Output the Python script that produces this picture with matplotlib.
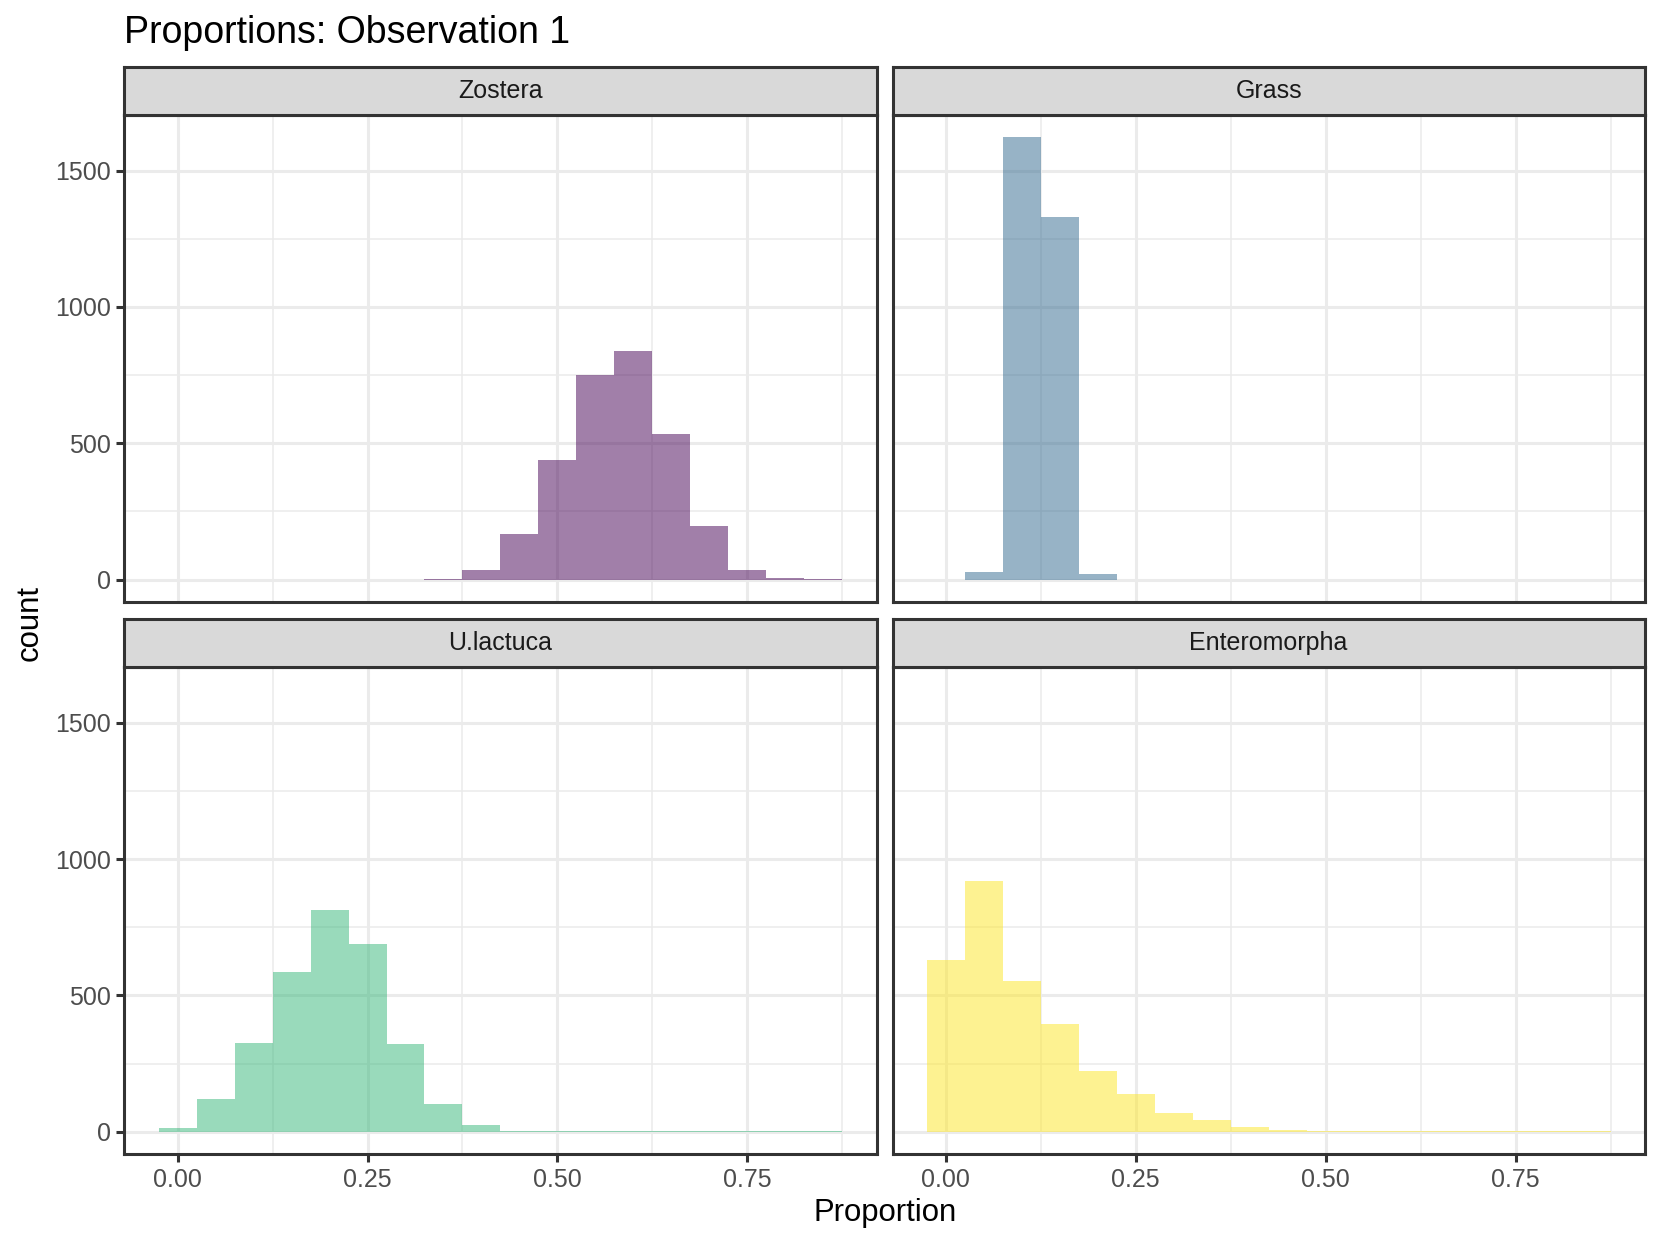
import numpy as np
import matplotlib
matplotlib.use("Agg")
import matplotlib.pyplot as plt

plt.rcParams['font.family'] = ['Liberation Sans', 'DejaVu Sans']

# bin centres (binwidth 0.05)
bin_centres = [0.00, 0.05, 0.10, 0.15, 0.20, 0.25, 0.30, 0.35, 0.40,
               0.45, 0.50, 0.55, 0.60, 0.65, 0.70, 0.75, 0.80, 0.85]

# counts, one list per facet
zostera = [0, 0, 0, 0, 0, 0, 0, 3, 35, 167, 438, 752, 837, 535, 198, 35, 4, 1]
grass = [0, 26, 1622, 1330, 22, 0, 0, 0, 0, 0, 0, 0, 0, 0, 0, 0, 0, 0]
ulactuca = [15, 120, 326, 584, 812, 688, 320, 102, 23, 4, 1, 1, 1, 1, 1, 1, 1, 1]
enteromorpha = [628, 919, 554, 395, 221, 140, 70, 43, 19, 8, 4, 2, 1, 1, 1, 1, 1, 1]

facet_names = ["Zostera", "Grass", "U.lactuca", "Enteromorpha"]
facet_counts = [zostera, grass, ulactuca, enteromorpha]
facet_colours = ["#440154", "#31688E", "#35B779", "#FDE725"]

x_ticks = [0.00, 0.25, 0.50, 0.75]
x_tick_labels = ["0.00", "0.25", "0.50", "0.75"]
y_ticks = [0, 500, 1000, 1500]

W, H = 1661, 1246
DPI = 200
fig = plt.figure(figsize=(W / DPI, H / DPI), dpi=DPI)

# panel geometry (figure fractions)
col_x = [0.0749, 0.5374]
panel_w = 0.4528
row_y = [0.5171, 0.0740]
panel_h = 0.3904
strip_h = 0.0388

dark = "#333333"
grid_col = "#ebebeb"
binw = 0.05
xlim = (-0.07, 0.92)
ymax = max(max(c) for c in facet_counts)
ylim = (-0.05 * ymax, 1.05 * ymax)

for i, (name, counts, col) in enumerate(zip(facet_names, facet_counts, facet_colours)):
    r, c = divmod(i, 2)
    ax = fig.add_axes([col_x[c], row_y[r], panel_w, panel_h])
    ax.set_xlim(*xlim)
    ax.set_ylim(*ylim)

    # gridlines like theme_bw
    ax.set_xticks(x_ticks)
    ax.set_yticks(y_ticks)
    ax.set_xticks([0.125, 0.375, 0.625, 0.875], minor=True)
    ax.set_yticks([250, 750, 1250], minor=True)
    ax.grid(which='major', color=grid_col, linewidth=1.1)
    ax.grid(which='minor', color=grid_col, linewidth=0.55)
    ax.set_axisbelow(True)

    ax.bar(bin_centres, counts, width=binw, color=col, alpha=0.5, linewidth=0)

    for sp in ax.spines.values():
        sp.set_color(dark)
        sp.set_linewidth(1.1)

    ax.tick_params(which='minor', length=0)
    ax.tick_params(which='major', length=2.75, width=1.1, color=dark,
                   labelsize=9, labelcolor="#4d4d4d", pad=2.2)
    if c == 0:
        ax.set_yticklabels([str(v) for v in y_ticks])
    else:
        ax.tick_params(axis='y', which='major', length=0, labelleft=False)
    if r == 1:
        ax.set_xticklabels(x_tick_labels)
    else:
        ax.tick_params(axis='x', which='major', length=0, labelbottom=False)

    # strip
    sax = fig.add_axes([col_x[c], row_y[r] + panel_h, panel_w, strip_h])
    sax.set_facecolor("#d9d9d9")
    sax.set_xticks([])
    sax.set_yticks([])
    for sp in sax.spines.values():
        sp.set_color(dark)
        sp.set_linewidth(1.1)
    sax.text(0.5, 0.5, name, ha='center', va='center', fontsize=9,
             color="#1a1a1a", transform=sax.transAxes)

fig.text(0.0749, 0.9655, "Proportions: Observation 1", fontsize=13.5,
         ha='left', va='baseline', color='black')
fig.text(0.5326, 0.0265, "Proportion", fontsize=11.2, ha='center', va='center')
fig.text(0.018, 0.5, "count", fontsize=11.2, ha='center', va='center', rotation=90)

fig.savefig("out.png", dpi=DPI, facecolor='white')
